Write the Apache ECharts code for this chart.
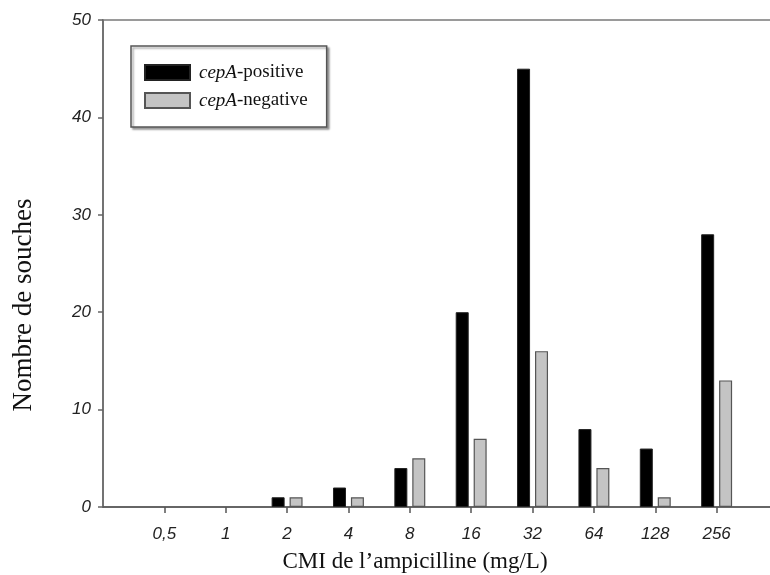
<!DOCTYPE html>
<html>
<head>
<meta charset="utf-8">
<script src="https://cdn.jsdelivr.net/npm/echarts@6/dist/echarts.min.js"></script>
<style>html,body{margin:0;padding:0;background:#fff}#c{width:770px;height:575px}</style>
</head>
<body>
<div id="c"></div>
<script>
const categories = ['0,5', '1', '2', '4', '8', '16', '32', '64', '128', '256'];
const positive = [0, 0, 1, 2, 4, 20, 45, 8, 6, 28];
const negative = [0, 0, 1, 1, 5, 7, 16, 4, 1, 13];
const yTicks = [0, 10, 20, 30, 40, 50];

const axisCats = [''].concat(categories, ['']);
const padData = a => [null].concat(a.map(v => v === 0 ? { value: 0, itemStyle: { borderWidth: 0, opacity: 0 } } : v), [null]);

const chart = echarts.init(document.getElementById('c'));
chart.setOption({
  animation: false,
  backgroundColor: '#fff',
  grid: {
    left: 103, right: -8, top: 20, bottom: 68,
    outerBoundsMode: 'none', containLabel: false,
    show: true, borderColor: '#9a9a9a', borderWidth: 2, backgroundColor: 'transparent'
  },
  legend: {
    orient: 'vertical', left: 131, top: 46,
    padding: [17, 19, 17, 13], itemGap: 9,
    itemWidth: 45, itemHeight: 15, icon: 'rect',
    backgroundColor: '#fff', borderColor: '#555', borderWidth: 1.5,
    shadowColor: 'rgba(0,0,0,0.35)', shadowBlur: 2, shadowOffsetX: 2, shadowOffsetY: 2,
    formatter: function (name) { return '{i|cepA}-' + name.split('-')[1]; },
    textStyle: {
      fontFamily: 'Liberation Serif', fontSize: 19, color: '#111', padding: [0, 0, 0, 4],
      rich: { i: { fontFamily: 'Liberation Serif', fontSize: 19, fontStyle: 'italic', color: '#111' } }
    },
    data: ['cepA-positive', 'cepA-negative']
  },
  xAxis: {
    type: 'category', data: axisCats, boundaryGap: false,
    axisLine: { show: true, lineStyle: { color: '#555', width: 1.5 } },
    axisTick: { show: true, length: 6, lineStyle: { color: '#555', width: 1.5 },
      interval: function (i) { return i > 0 && i < axisCats.length - 1; } },
    axisLabel: { margin: 19, interval: 0, fontFamily: 'Liberation Sans', fontStyle: 'italic', fontSize: 17, color: '#222' },
    splitLine: { show: false }
  },
  yAxis: {
    type: 'value', min: 0, max: 50, interval: 10,
    axisLine: { show: true, lineStyle: { color: '#666', width: 1.5 } },
    axisTick: { show: true, length: 5, lineStyle: { color: '#666', width: 1.5 } },
    axisLabel: { margin: 12, fontFamily: 'Liberation Sans', fontStyle: 'italic', fontSize: 17, color: '#222',
      formatter: v => yTicks.indexOf(v) >= 0 ? String(v) : '' },
    splitLine: { show: false }
  },
  series: [
    { name: 'cepA-positive', type: 'bar', data: padData(positive), barWidth: 13, barGap: '38%',
      itemStyle: { color: '#000', borderColor: '#222', borderWidth: 1 } },
    { name: 'cepA-negative', type: 'bar', data: padData(negative), barWidth: 13,
      itemStyle: { color: '#c4c4c4', borderColor: '#555', borderWidth: 1.2 } }
  ],
  graphic: [
    { type: 'text', x: 415, y: 562, style: { text: 'CMI de l\u2019ampicilline (mg/L)', fontFamily: 'Liberation Serif', fontSize: 23, fill: '#111', align: 'center', verticalAlign: 'middle' } },
    { type: 'text', x: 24, y: 305, rotation: Math.PI / 2, style: { text: 'Nombre de souches', fontFamily: 'Liberation Serif', fontSize: 27, fill: '#111', align: 'center', verticalAlign: 'middle' } }
  ]
});
</script>
</body>
</html>
